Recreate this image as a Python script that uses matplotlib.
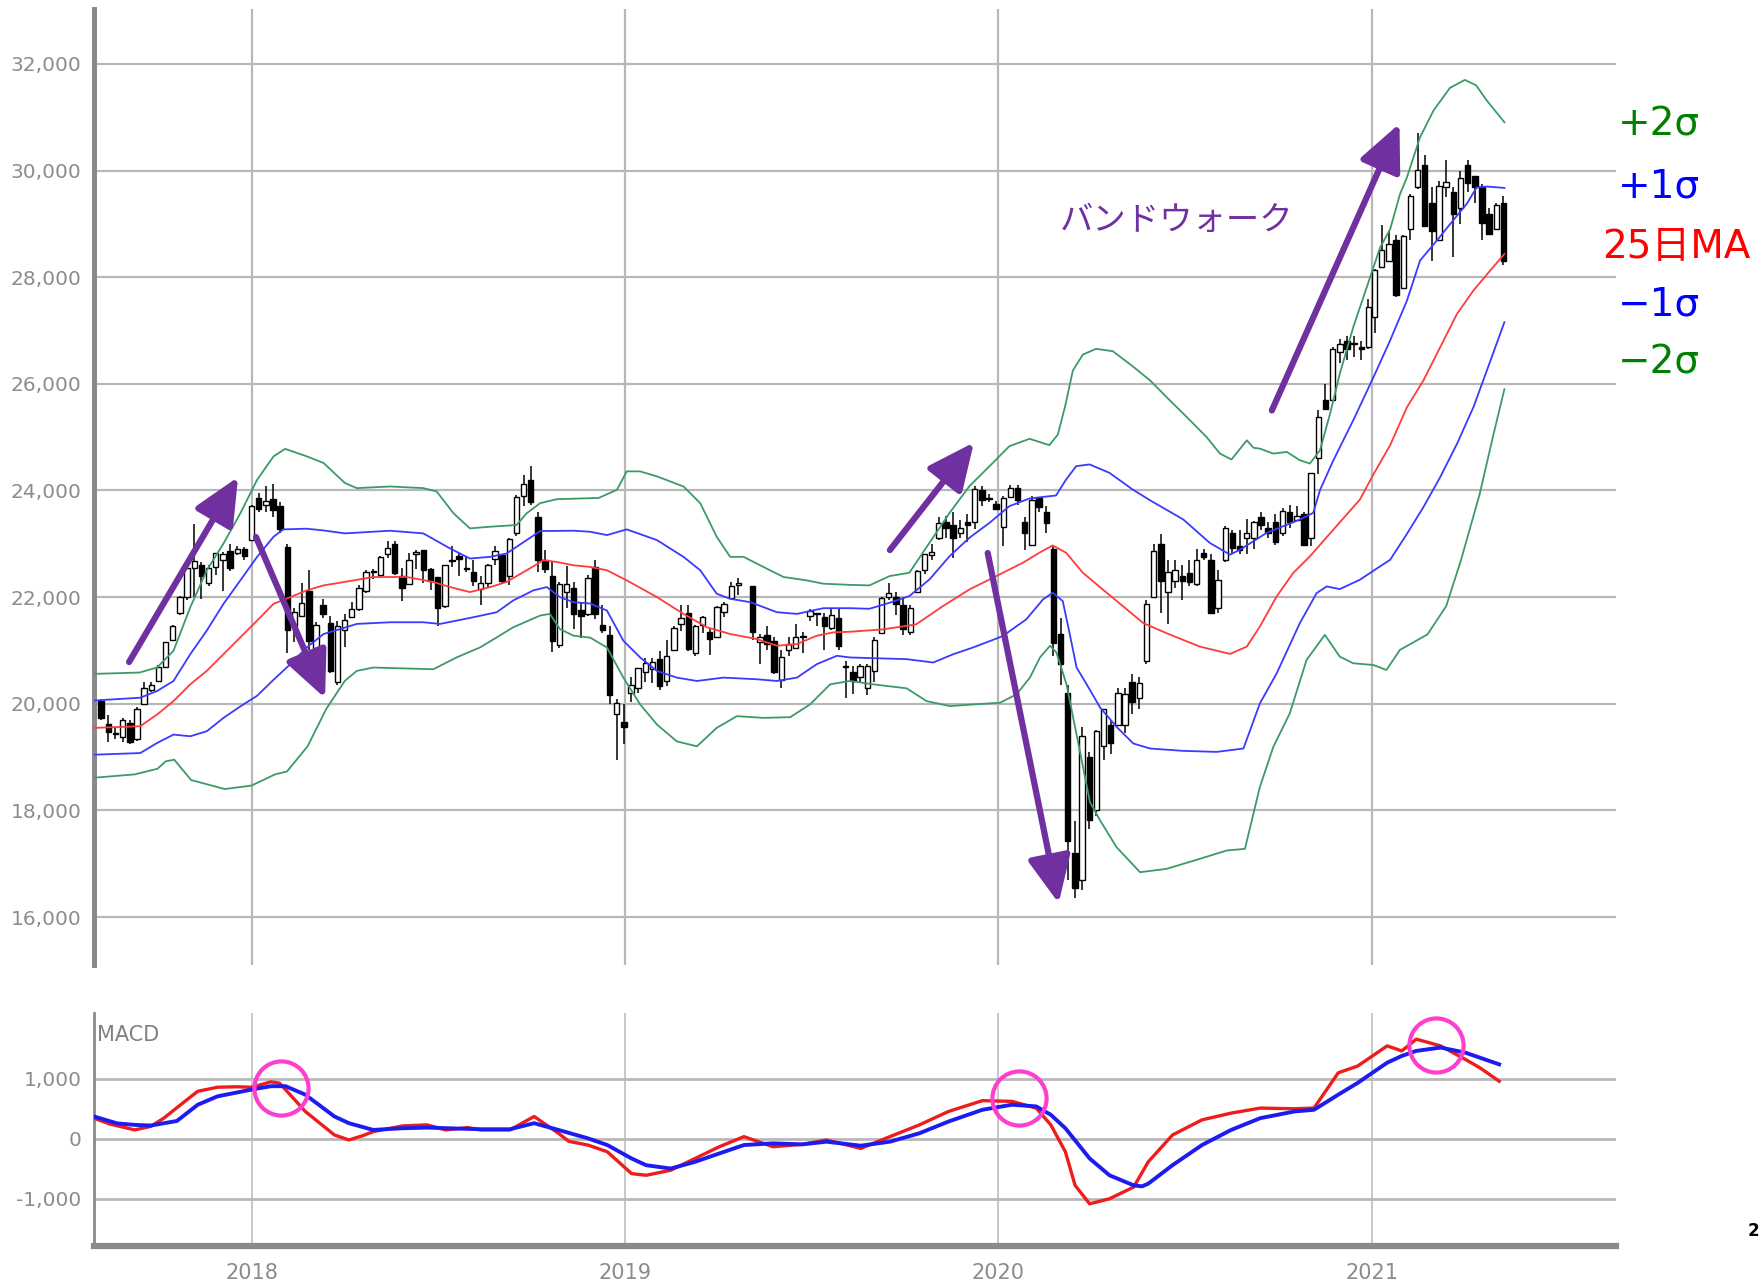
import matplotlib.pyplot as plt
import numpy as np
import pandas as pd

plt.rcParams['font.family'] = ['DejaVu Sans', 'Noto Sans CJK JP']

# weekly candles, week of 2019-04-29 had no trading (Golden Week)
weeks = pd.date_range('2017-08-07', '2021-05-10', freq='W-MON')
weeks = weeks[weeks != pd.Timestamp('2019-04-29')]

opens = [
    20060, 19620, 19440, 19380, 19640, 19330, 19990, 20250, 20420, 20690,
    21200, 21700, 22000, 22540, 22600, 22260, 22560, 22700, 22870, 22820,
    22910, 23070, 23850, 23720, 23840, 23700, 22940, 21460, 21640, 22120,
    21040, 21850, 21520, 20400, 21380, 21630, 21780, 22120, 22480, 22420,
    22800, 23000, 22400, 22250, 22800, 22880, 22530, 22380, 21840, 22670,
    22780, 22550, 22470, 22150, 22260, 22720, 22790, 22390, 23200, 23900,
    24200, 23500, 22700, 22400, 21100, 22100, 22180, 21760, 21690, 22570,
    21480, 21280, 19800, 19650, 20200, 20300, 20600, 20650, 20840, 20420,
    21000, 21500, 21700, 20950, 21480, 21350, 21260, 21720, 21980, 22230,
    22200, 21150, 21280, 21170, 20450, 21000, 21050, 21250, 21650, 21680,
    21630, 21420, 21600, 20700, 20600, 20500, 20300, 20620, 21320, 22000,
    22000, 21850, 21350, 22100, 22500, 22790, 23100, 23400, 23350, 23200,
    23400, 23400, 24000, 23850, 23750, 23320, 23880, 24050, 23400, 22980,
    23850, 23600, 22900, 21300, 20200, 17200, 16700, 19000, 18000, 19200,
    19600, 19600, 19600, 20400, 20100, 20800, 22000, 23000, 22100, 22300,
    22400, 22450, 22250, 22820, 22700, 21800, 22700, 23200, 22950, 23100,
    23100, 23500, 23300, 23400, 23200, 23600, 23450, 23550, 23100, 24600,
    25700, 25700, 26600, 26800, 26750, 26700, 26700, 27250, 28200, 28300,
    28700, 27800, 28900, 29700, 30100, 29400, 28700, 29700, 29600, 29300,
    30100, 29900, 29700, 29190, 28900, 29400]
highs = [
    20080, 19780, 19550, 19740, 19700, 19930, 20400, 20400, 20720, 21160,
    21480, 22020, 22560, 23380, 22650, 22600, 22830, 22850, 22990, 22950,
    22940, 23730, 23950, 24080, 24130, 23790, 22990, 21790, 22270, 22500,
    21540, 21970, 21650, 21550, 21680, 21900, 22230, 22500, 22530, 22780,
    23050, 23050, 22550, 22830, 22880, 22880, 22540, 22380, 22610, 22950,
    22830, 22760, 22690, 22400, 22630, 22960, 22800, 23110, 23910, 24290,
    24450, 23590, 22880, 22680, 22290, 22580, 22280, 21900, 22420, 22700,
    21860, 21460, 20080, 20000, 20500, 20670, 20850, 20850, 20980, 21200,
    21460, 21860, 21860, 21480, 21650, 21400, 21840, 21900, 22280, 22360,
    22200, 21300, 21450, 21250, 21000, 21260, 21500, 21350, 21780, 21700,
    21700, 21790, 21790, 20800, 20700, 20750, 20750, 21250, 22000, 22260,
    22100, 22000, 21850, 22500, 22800, 23000, 23500, 23520, 23600, 23440,
    23550, 24090, 24090, 23930, 23800, 23900, 24110, 24100, 23500, 23890,
    23880, 23700, 22950, 21600, 20350, 17800, 19560, 19100, 19500, 19900,
    19700, 20300, 20300, 20550, 20500, 21950, 23000, 23180, 22700, 22700,
    22600, 22700, 22900, 22900, 22800, 22500, 23340, 23250, 23250, 23470,
    23420, 23600, 23400, 23560, 23680, 23730, 23700, 23600, 24330, 25500,
    26000, 26700, 26850, 26900, 26900, 26800, 27600, 28150, 28980, 28870,
    28800, 28800, 29560, 30710, 30300, 29700, 29800, 30200, 29700, 30000,
    30200, 29900, 29750, 29300, 29400, 29520]
lows = [
    19690, 19280, 19340, 19280, 19240, 19300, 19990, 20220, 20410, 20680,
    21200, 21670, 21950, 22010, 21970, 22200, 22420, 22120, 22490, 22790,
    22700, 23070, 23600, 23600, 23500, 23200, 20950, 21150, 21640, 21000,
    20940, 21600, 20580, 20350, 21060, 21600, 21740, 22070, 22340, 22380,
    22740, 22420, 21930, 22220, 22520, 22260, 22130, 21460, 21800, 22560,
    22400, 22480, 22200, 21850, 22170, 22600, 22260, 22230, 23150, 23700,
    23730, 22470, 22450, 20970, 21040, 21800, 21400, 21240, 21650, 21580,
    21330, 20000, 18950, 19240, 20040, 20210, 20400, 20380, 20250, 20330,
    20980, 21370, 20990, 20900, 21320, 20910, 21260, 21630, 21960, 22040,
    21200, 20750, 21000, 20550, 20290, 20900, 21030, 20960, 21560, 21450,
    21000, 21390, 21000, 20110, 20180, 20400, 20170, 20410, 21300, 21950,
    21670, 21280, 21280, 22100, 22440, 22700, 23080, 23100, 22730, 23100,
    23040, 23280, 23700, 23780, 23640, 22950, 23860, 23720, 22890, 22980,
    23600, 23200, 20900, 20350, 16690, 16360, 16500, 17650, 17900, 18950,
    19050, 19600, 19450, 19800, 19900, 20740, 22000, 21700, 21500, 22180,
    21950, 22200, 22200, 22700, 21700, 21700, 22650, 22800, 22800, 22800,
    22900, 23250, 23100, 22970, 23150, 23300, 23450, 22950, 22950, 24300,
    25500, 25700, 26400, 26450, 26500, 26450, 26650, 26950, 28200, 28300,
    27630, 27800, 28700, 29650, 28960, 28300, 28700, 29500, 28380, 29000,
    29600, 29400, 28700, 28800, 28900, 28220]
closes = [
    19730, 19470, 19452, 19691, 19275, 19909, 20296, 20356, 20690, 21155,
    21457, 22008, 22539, 22681, 22397, 22550, 22819, 22811, 22553, 22902,
    22765, 23714, 23653, 23808, 23631, 23274, 21382, 21720, 21892, 21182,
    21469, 21676, 20617, 21454, 21567, 21778, 22162, 22467, 22472, 22758,
    22930, 22450, 22171, 22694, 22851, 22516, 22304, 21788, 22597, 22697,
    22712, 22525, 22298, 22270, 22601, 22865, 22307, 23094, 23870, 24120,
    23783, 22694, 22532, 21184, 22243, 22250, 21680, 21646, 22351, 21679,
    21375, 20166, 20015, 19561, 20359, 20666, 20773, 20788, 20333, 20900,
    21425, 21602, 21025, 21450, 21627, 21205, 21807, 21870, 22200, 22258,
    21344, 21250, 21117, 20601, 20884, 21116, 21258, 21276, 21746, 21686,
    21467, 21658, 21087, 20684, 20418, 20710, 20704, 21199, 21988, 22079,
    21878, 21410, 21798, 22492, 22800, 22851, 23391, 23303, 23113, 23293,
    23354, 24023, 23816, 23837, 23656, 23850, 24041, 23827, 23205, 23827,
    23688, 23387, 21143, 20750, 17431, 16553, 19389, 17820, 19498, 19897,
    19262, 20193, 20179, 20037, 20388, 21877, 22863, 22305, 22478, 22512,
    22306, 22290, 22696, 22751, 21710, 22329, 23289, 22920, 22882, 23205,
    23406, 23360, 23205, 23030, 23620, 23410, 23516, 22977, 24325, 25385,
    25527, 26644, 26751, 26652, 26763, 26656, 27444, 28139, 28519, 28631,
    27663, 28779, 29520, 30018, 28966, 28864, 29717, 29792, 29176, 29854,
    29768, 29683, 29020, 28813, 29358, 28300]

# Bollinger band lines (x in decimal years)
up2_x = [2017.578, 2017.70, 2017.747, 2017.791, 2017.836, 2017.880, 2017.925, 2017.970, 2018.015,
         2018.059, 2018.09, 2018.148, 2018.193, 2018.25, 2018.282, 2018.371, 2018.460, 2018.496,
         2018.541, 2018.585, 2018.639, 2018.710, 2018.737, 2018.773, 2018.817, 2018.93, 2018.979,
         2019.005, 2019.041, 2019.086, 2019.157, 2019.202, 2019.246, 2019.282, 2019.318, 2019.371,
         2019.425, 2019.487, 2019.532, 2019.602, 2019.655, 2019.709, 2019.762, 2019.816, 2019.870,
         2019.923, 2019.977, 2020.030, 2020.084, 2020.137, 2020.16, 2020.18, 2020.20, 2020.227,
         2020.262, 2020.307, 2020.360, 2020.407, 2020.451, 2020.505, 2020.558, 2020.594, 2020.625,
         2020.666, 2020.684, 2020.701, 2020.737, 2020.773, 2020.808, 2020.835, 2020.862, 2020.889,
         2020.915, 2020.951, 2020.987, 2021.023, 2021.050, 2021.076, 2021.095, 2021.130, 2021.166,
         2021.21, 2021.25, 2021.28, 2021.309, 2021.356]
up2_y = [20560, 20585, 20680, 20993, 21810, 22500, 23006, 23572, 24200,
         24640, 24780, 24640, 24515, 24140, 24044, 24075, 24044, 23981,
         23572, 23289, 23320, 23352, 23572, 23761, 23836, 23860, 24013,
         24358, 24358, 24264, 24075, 23761, 23132, 22755, 22755, 22566,
         22377, 22314, 22251, 22230, 22219, 22394, 22456, 23019, 23581,
         24081, 24456, 24831, 24969, 24850, 25050, 25600, 26250, 26550,
         26656, 26612, 26331, 26063, 25751, 25378, 25004, 24692, 24580,
         24941, 24800, 24785, 24692, 24723, 24567, 24505, 24754, 25440,
         26187, 27060, 27807, 28555, 28900, 29551, 29875, 30625, 31125,
         31550, 31700, 31600, 31312, 30906]

up1_x = [2017.578, 2017.702, 2017.747, 2017.791, 2017.836, 2017.880, 2017.925, 2017.970, 2018.015,
         2018.059, 2018.085, 2018.148, 2018.193, 2018.25, 2018.371, 2018.460, 2018.532, 2018.585,
         2018.639, 2018.683, 2018.737, 2018.773, 2018.862, 2018.907, 2018.952, 2019.005, 2019.086,
         2019.157, 2019.202, 2019.246, 2019.282, 2019.336, 2019.407, 2019.461, 2019.532, 2019.603,
         2019.655, 2019.709, 2019.762, 2019.816, 2019.870, 2019.923, 2019.977, 2020.030, 2020.084,
         2020.155, 2020.182, 2020.209, 2020.245, 2020.298, 2020.360, 2020.407, 2020.496, 2020.567,
         2020.621, 2020.648, 2020.719, 2020.808, 2020.844, 2020.862, 2020.898, 2020.951, 2021.005,
         2021.049, 2021.095, 2021.130, 2021.175, 2021.211, 2021.255, 2021.282, 2021.309, 2021.356]
up1_y = [20060, 20113, 20239, 20427, 20930, 21371, 21874, 22314, 22755,
         23132, 23270, 23283, 23250, 23195, 23245, 23195, 22912, 22723,
         22755, 22817, 23069, 23239, 23245, 23226, 23163, 23270, 23069,
         22755, 22503, 22063, 21968, 21905, 21717, 21685, 21792, 21792,
         21781, 21894, 22019, 22331, 22769, 23113, 23394, 23706, 23850,
         23906, 24206, 24456, 24488, 24331, 24019, 23815, 23455, 23016,
         22796, 22890, 23204, 23455, 23580, 24007, 24568, 25315, 26120,
         26800, 27562, 28312, 28687, 29000, 29375, 29687, 29700, 29675]

ma_x = [2017.578, 2017.702, 2017.747, 2017.791, 2017.836, 2017.880, 2017.925, 2017.970, 2018.015,
        2018.059, 2018.104, 2018.148, 2018.193, 2018.237, 2018.326, 2018.416, 2018.487, 2018.532,
        2018.585, 2018.639, 2018.683, 2018.737, 2018.782, 2018.817, 2018.862, 2018.907, 2018.952,
        2019.005, 2019.086, 2019.157, 2019.220, 2019.282, 2019.353, 2019.407, 2019.461, 2019.514,
        2019.559, 2019.603, 2019.691, 2019.780, 2019.852, 2019.923, 2019.995, 2020.066, 2020.110,
        2020.146, 2020.182, 2020.227, 2020.280, 2020.334, 2020.389, 2020.451, 2020.540, 2020.621,
        2020.666, 2020.701, 2020.746, 2020.790, 2020.835, 2020.898, 2020.969, 2021.005, 2021.050,
        2021.095, 2021.139, 2021.184, 2021.229, 2021.273, 2021.318, 2021.356]
ma_y = [19547, 19578, 19798, 20050, 20364, 20616, 20930, 21245, 21560,
        21874, 22000, 22126, 22220, 22270, 22377, 22377, 22283, 22188,
        22094, 22188, 22283, 22503, 22692, 22660, 22597, 22566, 22503,
        22314, 22000, 21685, 21434, 21308, 21214, 21088, 21119, 21276,
        21339, 21350, 21394, 21488, 21831, 22144, 22394, 22644, 22831,
        22969, 22831, 22456, 22144, 21831, 21511, 21323, 21072, 20934,
        21072, 21448, 22013, 22451, 22765, 23267, 23830, 24300, 24850,
        25562, 26062, 26687, 27312, 27750, 28125, 28437]

lo1_x = [2017.578, 2017.702, 2017.747, 2017.791, 2017.836, 2017.880, 2017.925, 2017.970, 2018.015,
         2018.059, 2018.104, 2018.148, 2018.193, 2018.237, 2018.282, 2018.371, 2018.460, 2018.505,
         2018.594, 2018.657, 2018.701, 2018.755, 2018.791, 2018.826, 2018.862, 2018.907, 2018.952,
         2018.996, 2019.041, 2019.086, 2019.139, 2019.193, 2019.264, 2019.353, 2019.407, 2019.461,
         2019.514, 2019.568, 2019.603, 2019.665, 2019.755, 2019.826, 2019.880, 2019.933, 2019.987,
         2020.012, 2020.075, 2020.120, 2020.146, 2020.173, 2020.191, 2020.210, 2020.237, 2020.273,
         2020.317, 2020.362, 2020.407, 2020.496, 2020.585, 2020.657, 2020.701, 2020.746, 2020.808,
         2020.853, 2020.880, 2020.915, 2020.969, 2021.023, 2021.050, 2021.095, 2021.139, 2021.184,
         2021.229, 2021.273, 2021.309, 2021.356]
lo1_y = [19044, 19075, 19264, 19421, 19390, 19484, 19735, 19950, 20150,
         20450, 20742, 21056, 21308, 21400, 21497, 21528, 21528, 21497,
         21622, 21717, 21937, 22126, 22188, 22000, 21905, 21880, 21748,
         21182, 20868, 20616, 20490, 20427, 20490, 20459, 20427, 20490,
         20742, 20899, 20868, 20855, 20836, 20773, 20930, 21056, 21200,
         21269, 21581, 21956, 22081, 21925, 21331, 20679, 20364, 19930,
         19567, 19254, 19160, 19116, 19097, 19160, 20006, 20570, 21511,
         22075, 22200, 22150, 22326, 22577, 22700, 23187, 23687, 24250,
         24875, 25562, 26250, 27156]

lo2_x = [2017.578, 2017.687, 2017.748, 2017.77, 2017.793, 2017.838, 2017.928, 2018.0, 2018.063,
         2018.095, 2018.15, 2018.20, 2018.25, 2018.282, 2018.326, 2018.487, 2018.549, 2018.612,
         2018.657, 2018.701, 2018.773, 2018.799, 2018.826, 2018.862, 2018.907, 2018.952, 2018.996,
         2019.041, 2019.086, 2019.139, 2019.193, 2019.246, 2019.300, 2019.371, 2019.443, 2019.496,
         2019.550, 2019.603, 2019.665, 2019.755, 2019.808, 2019.871, 2019.933, 2020.005, 2020.049,
         2020.085, 2020.112, 2020.139, 2020.156, 2020.183, 2020.219, 2020.246, 2020.273, 2020.317,
         2020.380, 2020.451, 2020.540, 2020.612, 2020.661, 2020.701, 2020.737, 2020.781, 2020.826,
         2020.875, 2020.915, 2020.951, 2021.005, 2021.040, 2021.076, 2021.15, 2021.20, 2021.24,
         2021.29, 2021.327, 2021.356]
lo2_y = [18612, 18675, 18780, 18920, 18950, 18570, 18400, 18465, 18675,
         18730, 19200, 19900, 20430, 20616, 20679, 20647, 20868, 21056,
         21245, 21434, 21654, 21685, 21402, 21277, 21240, 21056, 20490,
         19987, 19610, 19295, 19201, 19547, 19767, 19735, 19748, 19987,
         20364, 20427, 20364, 20289, 20050, 19956, 19987, 20018, 20176,
         20490, 20868, 21088, 20962, 20364, 19106, 18150, 17812, 17310,
         16840, 16903, 17091, 17247, 17279, 18439, 19191, 19818, 20821,
         21291, 20884, 20759, 20727, 20633, 21009, 21300, 21830, 22700,
         23940, 25060, 25900]

# MACD and signal
macd_x = [2017.578, 2017.62, 2017.687, 2017.73, 2017.765, 2017.82, 2017.856, 2017.909, 2017.96,
          2018.0, 2018.052, 2018.075, 2018.091, 2018.144, 2018.222, 2018.261, 2018.30, 2018.326,
          2018.405, 2018.47, 2018.52, 2018.58, 2018.614, 2018.692, 2018.757, 2018.822, 2018.85,
          2018.901, 2018.953, 2019.018, 2019.057, 2019.123, 2019.188, 2019.253, 2019.319, 2019.36,
          2019.397, 2019.475, 2019.540, 2019.632, 2019.710, 2019.789, 2019.867, 2019.958, 2020.037,
          2020.102, 2020.141, 2020.180, 2020.206, 2020.245, 2020.298, 2020.363, 2020.402, 2020.467,
          2020.546, 2020.624, 2020.702, 2020.794, 2020.846, 2020.911, 2020.963, 2021.042, 2021.081,
          2021.120, 2021.185, 2021.251, 2021.290, 2021.342]
macd_y = [347, 250, 151, 210, 347, 620, 795, 863, 870,
          863, 952, 930, 823, 459, 67, -17, 60, 123,
          218, 235, 151, 190, 151, 151, 375, 95, -40,
          -101, -213, -577, -605, -521, -325, -129, 39, -50,
          -129, -90, -17, -157, 39, 235, 459, 639, 627,
          515, 235, -213, -773, -1081, -997, -801, -381, 67,
          319, 431, 515, 504, 515, 1104, 1216, 1552, 1468,
          1664, 1552, 1328, 1188, 963]
sig_x = [2017.578, 2017.64, 2017.687, 2017.73, 2017.80, 2017.856, 2017.909, 2018.0, 2018.052,
         2018.091, 2018.144, 2018.222, 2018.261, 2018.326, 2018.405, 2018.47, 2018.614, 2018.692,
         2018.757, 2018.822, 2018.901, 2018.953, 2019.018, 2019.057, 2019.123, 2019.188, 2019.253,
         2019.319, 2019.397, 2019.475, 2019.540, 2019.632, 2019.710, 2019.789, 2019.867, 2019.958,
         2020.037, 2020.102, 2020.141, 2020.180, 2020.245, 2020.298, 2020.363, 2020.385, 2020.402,
         2020.467, 2020.546, 2020.624, 2020.702, 2020.794, 2020.846, 2020.911, 2020.963, 2021.042,
         2021.081, 2021.120, 2021.185, 2021.251, 2021.290, 2021.342]
sig_y = [375, 260, 235, 224, 300, 571, 711, 823, 880,
         880, 739, 375, 263, 151, 179, 190, 162, 162,
         263, 151, 11, -101, -325, -437, -493, -381, -241,
         -101, -73, -90, -45, -112, -45, 95, 291, 487,
         571, 543, 403, 179, -325, -605, -773, -790, -745,
         -437, -101, 151, 347, 459, 487, 739, 935, 1272,
         1384, 1468, 1524, 1440, 1356, 1244]

# golden / dead cross markers
cross_x = [2018.079, 2020.057, 2021.174]
cross_y = [850, 675, 1568]

# purple arrows (tail -> head)
arrow_tail = [(2017.672, 20782), (2018.012, 23126), (2019.710, 22883), (2019.972, 22826), (2020.733, 25500)]
arrow_head = [(2017.964, 24252), (2018.197, 20106), (2019.935, 24900), (2020.162, 16260), (2021.075, 30880)]

grid_c = '#b8b8b8'
tick_c = '#8c8c8c'
purple = '#7030a0'

x = np.array(weeks.year + (weeks.dayofyear - 1) / 365.0)
o = np.array(opens); h = np.array(highs); l = np.array(lows); c = np.array(closes)

fig = plt.figure(figsize=(17.6, 12.87), dpi=100)
ax = fig.add_axes([0.0534, 0.2502, 0.8648, 0.7428])
ax2 = fig.add_axes([0.0534, 0.0319, 0.8648, 0.181])

xmin, xmax = 2017.578, 2021.655

# ---- price panel ----
ax.vlines(x, l, h, color='black', lw=1.1, zorder=3)
up = c >= o
body = np.maximum(np.abs(c - o), 15)
ax.bar(x, body, bottom=np.minimum(o, c), width=0.0145,
       color=np.where(up, 'white', 'black'), edgecolor='black', lw=1.0, zorder=4)

ax.plot(up2_x, up2_y, color='#3c9a68', lw=1.3, zorder=5)
ax.plot(lo2_x, lo2_y, color='#3c9a68', lw=1.3, zorder=5)
ax.plot(up1_x, up1_y, color='#3a3aff', lw=1.3, zorder=5)
ax.plot(lo1_x, lo1_y, color='#3a3aff', lw=1.3, zorder=5)
ax.plot(ma_x, ma_y, color='#ff3b3b', lw=1.3, zorder=5)

for t, hd in zip(arrow_tail, arrow_head):
    ax.annotate('', xy=hd, xytext=t,
                arrowprops=dict(arrowstyle='-|>,head_length=1.3,head_width=0.6',
                                mutation_scale=22, color=purple, lw=4.5,
                                shrinkA=0, shrinkB=0), zorder=6)

ax.text(2020.479, 29073, 'バンドウォーク', color=purple, fontsize=24,
        family=['Noto Sans CJK JP'], ha='center', va='center', zorder=6)

ax.set_xlim(xmin, xmax)
ax.set_ylim(15100, 33030)
ax.set_yticks(range(16000, 32001, 2000))
ax.set_yticklabels([f'{v:,}' for v in range(16000, 32001, 2000)])
ax.set_xticks([2018, 2019, 2020, 2021])
ax.grid(True, color=grid_c, lw=1.6)
ax.set_axisbelow(True)
ax.tick_params(axis='x', length=0, labelbottom=False)
ax.tick_params(axis='y', length=0, pad=9, labelsize=14.5, labelcolor=tick_c)
for s in ['top', 'right', 'bottom']:
    ax.spines[s].set_visible(False)
ax.spines['left'].set_color('#8a8a8a')
ax.spines['left'].set_linewidth(3.6)

# ---- MACD panel ----
ax2.plot(macd_x, macd_y, color='#ee1c1c', lw=2.4, zorder=3)
ax2.plot(sig_x, sig_y, color='#1c1cf0', lw=2.8, zorder=4)
ax2.plot(cross_x, cross_y, 'o', ms=39, mfc='none', mec='#ff3dcf', mew=3.0, zorder=5)
ax2.text(0.002, 0.905, 'MACD', transform=ax2.transAxes, fontsize=15,
         color='#808080', ha='left', va='center')

ax2.set_xlim(xmin, xmax)
ax2.set_ylim(-1783, 2100)
ax2.set_yticks([-1000, 0, 1000])
ax2.set_yticklabels(['-1,000', '0', '1,000'])
ax2.set_xticks([2018, 2019, 2020, 2021])
ax2.set_xticklabels(['2018', '2019', '2020', '2021'])
ax2.grid(True, axis='y', color=grid_c, lw=2.0)
ax2.grid(True, axis='x', color=grid_c, lw=1.1)
ax2.set_axisbelow(True)
ax2.tick_params(axis='x', length=0, pad=12, labelsize=15, labelcolor=tick_c)
ax2.tick_params(axis='y', length=0, pad=9, labelsize=14.5, labelcolor=tick_c)
for s in ['top', 'right']:
    ax2.spines[s].set_visible(False)
ax2.spines['left'].set_color('#8a8a8a')
ax2.spines['left'].set_linewidth(2.0)
ax2.spines['bottom'].set_color('#8a8a8a')
ax2.spines['bottom'].set_linewidth(4.5)

# ---- band labels on the right ----
W, H = 1760, 1287
labels = [('+2σ', '#008000', 1659, 125), ('+1σ', '#0000ff', 1659, 187),
          ('25日MA', '#ff0000', 1676, 247), ('\u22121σ', '#0000ff', 1659, 305),
          ('\u22122σ', '#008000', 1659, 363)]
for txt, col, px, py in labels:
    fig.text(px / W, 1 - py / H, txt, color=col, fontsize=28,
             ha='center', va='center')

fig.text(1753 / W, 1 - 1231 / H, '2', fontsize=12, fontweight='bold',
         ha='center', va='center')

fig.savefig('out.png', dpi=100)
